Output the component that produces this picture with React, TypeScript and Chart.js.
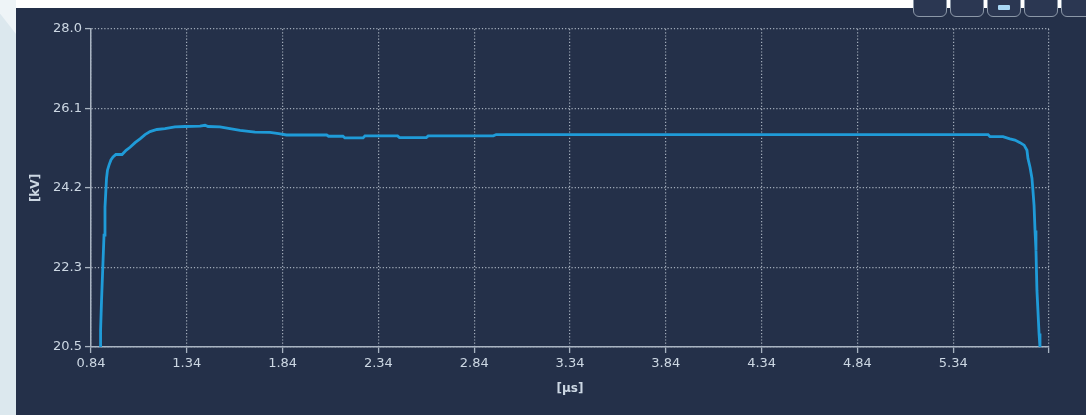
import React, { useEffect, useRef } from "react";
import { Chart, registerables } from "chart.js";

Chart.register(...registerables);

const timeUs: number[] = [
  0.887, 0.89, 0.895, 0.903, 0.908, 0.913, 0.921, 0.926, 0.934, 0.944, 0.955, 0.97, 1.002, 1.023, 1.044,
  1.07, 1.096, 1.122, 1.148, 1.184, 1.226, 1.278, 1.331, 1.409, 1.435, 1.451, 1.513, 1.565, 1.618,
  1.696, 1.774, 1.82, 1.86, 2.07, 2.08, 2.155, 2.165, 2.26, 2.27, 2.44, 2.45, 2.59, 2.6, 2.94, 2.955,
  5.522, 5.532, 5.6, 5.636, 5.662, 5.689, 5.71, 5.725, 5.73, 5.741, 5.751, 5.756, 5.762, 5.767, 5.772,
  5.777, 5.788, 5.793,
];
const voltageKv: number[] = [
  20.5, 20.89, 21.6, 22.55, 23.14, 23.8, 24.48, 24.67, 24.79, 24.91, 24.98, 25.04, 25.04, 25.14, 25.21,
  25.32, 25.41, 25.51, 25.58, 25.63, 25.65, 25.69, 25.7, 25.71, 25.73, 25.7, 25.69, 25.65, 25.61,
  25.57, 25.56, 25.53, 25.5, 25.5, 25.47, 25.47, 25.43, 25.43, 25.48, 25.48, 25.44, 25.44, 25.48, 25.48, 25.51,
  25.51, 25.46, 25.46, 25.41, 25.38, 25.32, 25.26, 25.14, 24.95, 24.74, 24.48, 24.2, 23.84, 23.25, 22.78,
  21.84, 20.82, 20.49,
];
const xTickValues: number[] = [0.84, 1.34, 1.84, 2.34, 2.84, 3.34, 3.84, 4.34, 4.84, 5.34, 5.84];
const xTickLabels: string[] = ["0.84", "1.34", "1.84", "2.34", "2.84", "3.34", "3.84", "4.34", "4.84", "5.34", ""];
const yTickValues: number[] = [20.5, 22.375, 24.25, 26.125, 28.0];
const yTickLabels: string[] = ["20.5", "22.3", "24.2", "26.1", "28.0"];

const PANEL = "#243049";
const GRID = "#a3adbb";
const AXIS = "#a9b4c2";
const TEXT = "#ccd7e3";
const LINE = "#1f9bd8";
const FONT = "'DejaVu Sans', Verdana, sans-serif";

export default function App() {
  const ref = useRef<HTMLCanvasElement | null>(null);

  useEffect(() => {
    if (!ref.current) return;
    const chart = new Chart(ref.current, {
      type: "line",
      data: {
        datasets: [
          {
            data: timeUs.map((x, i) => ({ x, y: voltageKv[i] })),
            borderColor: LINE,
            borderWidth: 2.8,
            pointRadius: 0,
            tension: 0,
            fill: false,
          },
        ],
      },
      options: {
        animation: false,
        responsive: false,
        maintainAspectRatio: false,
        layout: { padding: { top: 21, right: 37, bottom: 0, left: 0 } },
        plugins: { legend: { display: false }, tooltip: { enabled: false } },
        scales: {
          x: {
            type: "linear",
            min: 0.84,
            max: 5.84,
            afterFit: (s: any) => {
              s.height = 68;
            },
            afterBuildTicks: (s: any) => {
              s.ticks = xTickValues.map((v) => ({ value: v }));
            },
            border: { display: true, color: AXIS, width: 1.5, dash: [1.2, 2] },
            grid: {
              color: GRID,
              lineWidth: 1.2,
              tickLength: 6,
              tickColor: AXIS,
              tickWidth: 1.3,
              tickBorderDash: [],
              drawOnChartArea: true,
            },
            ticks: {
              color: TEXT,
              font: { family: FONT, size: 13 },
              padding: 3,
              maxRotation: 0,
              autoSkip: false,
              callback: (v: any) => {
                const i = xTickValues.findIndex((t) => Math.abs(t - Number(v)) < 1e-6);
                return i >= 0 ? xTickLabels[i] : "";
              },
            },
            title: {
              display: true,
              text: "[µs]",
              color: TEXT,
              font: { family: FONT, size: 12, weight: "bold" },
              padding: { top: 0, bottom: 19 },
            },
          },
          y: {
            type: "linear",
            min: 20.5,
            max: 28.0,
            afterFit: (s: any) => {
              s.width = 75;
            },
            afterBuildTicks: (s: any) => {
              s.ticks = yTickValues.map((v) => ({ value: v }));
            },
            border: { display: true, color: AXIS, width: 1.5, dash: [1.2, 2] },
            grid: {
              color: GRID,
              lineWidth: 1.2,
              tickLength: 6,
              tickColor: AXIS,
              tickWidth: 1.3,
              tickBorderDash: [],
            },
            ticks: {
              color: TEXT,
              font: { family: FONT, size: 13 },
              padding: 3,
              autoSkip: false,
              callback: (v: any) => {
                const i = yTickValues.findIndex((t) => Math.abs(t - Number(v)) < 1e-6);
                return i >= 0 ? yTickLabels[i] : "";
              },
            },
            title: {
              display: true,
              text: "[kV]",
              color: TEXT,
              font: { family: FONT, size: 12, weight: "bold" },
              padding: { top: 13, bottom: 0 },
            },
          },
        },
      },
    });
    return () => chart.destroy();
  }, []);

  const buttons = [0, 1, 2, 3, 4];

  return (
    <div style={{ position: "absolute", left: 0, top: 0, width: 1086, height: 415, background: "#ffffff", overflow: "hidden" }}>
      <div style={{ position: "absolute", left: 0, top: 8, width: 16, height: 407, background: "#dce8ee" }} />
      <div
        style={{
          position: "absolute",
          left: 0,
          top: 0,
          width: 16,
          height: 34,
          background: "#eef4f7",
          clipPath: "polygon(0 0, 100% 0, 100% 100%, 0 40%)",
        }}
      />
      <canvas
        ref={ref}
        width={1070}
        height={407}
        style={{ position: "absolute", left: 16, top: 8, width: 1070, height: 407, background: PANEL }}
      />
      {buttons.map((b) => (
        <div
          key={b}
          style={{
            position: "absolute",
            left: 913 + b * 37,
            top: -6,
            width: 32,
            height: 21,
            border: "1.5px solid #8c98a8",
            borderRadius: "0 0 6px 6px",
            background: "#2b3752",
          }}
        >
          {b === 2 ? (
            <div style={{ position: "absolute", left: 10, top: 10, width: 12, height: 5, background: "#a9d8f5", borderRadius: 1 }} />
          ) : null}
        </div>
      ))}
    </div>
  );
}
